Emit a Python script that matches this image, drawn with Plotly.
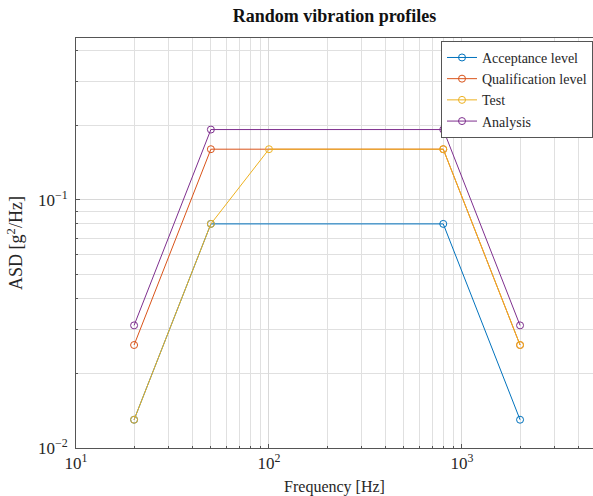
import numpy as np
import plotly.graph_objects as go

freq_acc = [20, 50, 800, 2000]
asd_acc = [0.013, 0.08, 0.08, 0.013]
freq_qual = [20, 50, 800, 2000]
asd_qual = [0.026, 0.16, 0.16, 0.026]
freq_test = [20, 50, 100, 800, 2000]
asd_test = [0.013, 0.08, 0.16, 0.16, 0.026]
freq_ana = [20, 50, 800, 2000]
asd_ana = [0.0312, 0.192, 0.192, 0.0312]

names = ["Acceptance level", "Qualification level", "Test", "Analysis"]
colors = ["#0072BD", "#D95319", "#EDB120", "#7E2F8E"]

x_tickvals = [10, 100, 1000]
x_ticktext = ["10<sup>1</sup>", "10<sup>2</sup>", "10<sup>3</sup>"]
y_tickvals = [0.01, 0.1]
y_ticktext = ["10<sup>\u22122</sup>", "10<sup>\u22121</sup>"]

FONT = "Liberation Serif"

fig = go.Figure()
for xs, ys, nm, c in zip([freq_acc, freq_qual, freq_test, freq_ana],
                         [asd_acc, asd_qual, asd_test, asd_ana], names, colors):
    fig.add_trace(go.Scatter(
        x=xs, y=ys, name=nm, mode="lines+markers",
        line=dict(color=c, width=1),
        marker=dict(symbol="circle-open", size=7, color=c, line=dict(width=1, color=c)),
    ))

axis_common = dict(
    type="log", showgrid=True, gridcolor="#d8d8d8", gridwidth=1,
    showline=True, linecolor="#555555", linewidth=1,
    ticks="inside", ticklen=4, tickcolor="#555555",
    zeroline=False,
    tickfont=dict(family=FONT, size=17, color="#262626"),
    minor=dict(showgrid=True, gridcolor="#e0e0e0", gridwidth=1, ticks="inside",
               ticklen=2, tickcolor="#555555", dtick="D1"),
)

fig.update_xaxes(
    **axis_common,
    range=[1, 3.679], tickvals=x_tickvals, ticktext=x_ticktext, mirror=True,
    ticklabelstandoff=0,
    title=dict(text="Frequency [Hz]", font=dict(family=FONT, size=16, color="#262626"), standoff=8),
)
fig.update_yaxes(
    **axis_common,
    range=[-2, np.log10(0.449)], tickvals=y_tickvals, ticktext=y_ticktext, mirror=False,
    ticklabelstandoff=4,
    title=dict(text="ASD [g<sup>2</sup>/Hz]", font=dict(family=FONT, size=18, color="#262626"), standoff=10),
)

fig.update_layout(
    width=593, height=496,
    margin=dict(l=76, r=0, t=38, b=48),
    paper_bgcolor="white", plot_bgcolor="white",
    title=dict(text="<b>Random vibration profiles</b>", x=0.5, xref="paper", y=0.968, yanchor="middle",
               font=dict(family=FONT, size=18, color="#111111")),
    legend=dict(x=1, xanchor="right", y=0.993, yanchor="top", bgcolor="white",
                bordercolor="#555555", borderwidth=1,
                font=dict(family=FONT, size=14, color="#262626"), tracegroupgap=0),
    showlegend=True,
)

fig.write_html("out.html")
